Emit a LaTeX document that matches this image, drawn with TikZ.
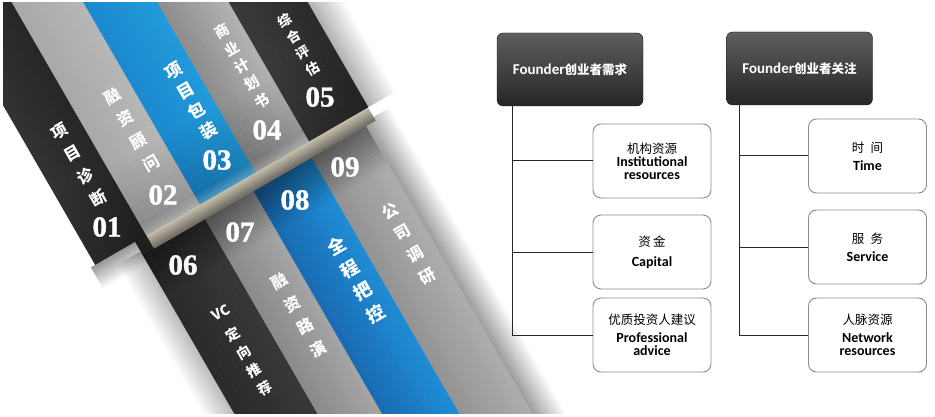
\documentclass[tikz,border=0pt]{standalone}
\usepackage{fontspec}
\newfontfamily\cjk{Noto Sans CJK SC}
\newfontfamily\en{Carlito}
\newfontfamily\numfont{Liberation Serif}[BoldFeatures={FakeBold=1.3}]
\usetikzlibrary{calc}
\definecolor{dkA}{HTML}{333333}\definecolor{dkB}{HTML}{262626}
\definecolor{gyA}{HTML}{A8A8A8}\definecolor{gyB}{HTML}{B7B7B7}
\definecolor{blA}{HTML}{1B89CE}\definecolor{blB}{HTML}{219ADA}
\definecolor{gy4A}{HTML}{8C8C8C}\definecolor{gy4B}{HTML}{B3B3B3}
\definecolor{dk5A}{HTML}{3A3A3A}\definecolor{dk5B}{HTML}{2A2A2A}
\definecolor{dk6A}{HTML}{2A2A2A}\definecolor{dk6B}{HTML}{383838}
\definecolor{gy7A}{HTML}{8A8A8A}\definecolor{gy7B}{HTML}{A5A5A5}
\definecolor{bl8A}{HTML}{196BB2}\definecolor{bl8B}{HTML}{1F8DD5}
\definecolor{gy9A}{HTML}{939393}\definecolor{gy9B}{HTML}{ADADAD}
\definecolor{creamA}{HTML}{E2DBC5}\definecolor{creamB}{HTML}{6E6A62}
\definecolor{hdA}{HTML}{5E5E5E}\definecolor{hdB}{HTML}{262626}
% gradient along f: f1 f2 s1 s2 c1 c2 n
\newcommand\gF[7]{\foreach \k in {1,...,#7}{%
 \pgfmathsetmacro\fa{#1+(#2-#1)*(\k-1)/#7}%
 \pgfmathsetmacro\fb{#1+(#2-#1)*\k/#7+0.4}%
 \pgfmathtruncatemacro\pc{100*(\k-0.5)/#7}%
 \fill[#6!\pc!#5] (\fa,#3) -- (\fb,#3) -- (\fb,#4) -- (\fa,#4) -- cycle;}}
% gradient along s: s1 s2 f1 f2 c1 c2 n
\newcommand\gS[7]{\foreach \k in {1,...,#7}{%
 \pgfmathsetmacro\sa{#1+(#2-#1)*(\k-1)/#7}%
 \pgfmathsetmacro\sb{#1+(#2-#1)*\k/#7+0.4}%
 \pgfmathtruncatemacro\pc{100*(\k-0.5)/#7}%
 \fill[#6!\pc!#5] (#3,\sa) -- (#4,\sa) -- (#4,\sb) -- (#3,\sb) -- cycle;}}
% opacity gradient along f: f1 f2 s1 s2 op1 op2 n colour
\newcommand\oF[8]{\foreach \k in {1,...,#7}{%
 \pgfmathsetmacro\fa{#1+(#2-#1)*(\k-1)/#7}%
 \pgfmathsetmacro\fb{#1+(#2-#1)*\k/#7}%
 \pgfmathsetmacro\op{#5+(#6-#5)*(\k-0.5)/#7}%
 \fill[#8,opacity=\op] (\fa,#3) -- (\fb,#3) -- (\fb,#4) -- (\fa,#4) -- cycle;}}
% opacity gradient along s: s1 s2 f1 f2 op1 op2 n colour
\newcommand\oS[8]{\foreach \k in {1,...,#7}{%
 \pgfmathsetmacro\sa{#1+(#2-#1)*(\k-1)/#7}%
 \pgfmathsetmacro\sb{#1+(#2-#1)*\k/#7}%
 \pgfmathsetmacro\op{#5+(#6-#5)*(\k-0.5)/#7}%
 \fill[#8,opacity=\op] (#3,\sa) -- (#4,\sa) -- (#4,\sb) -- (#3,\sb) -- cycle;}}
\begin{document}
\begin{tikzpicture}[x=1pt,y=-1pt,
  stxt/.style n args={2}{text=white,inner sep=0pt,align=center,rotate=30,
     font=\cjk\bfseries\fontsize{#1}{#2}\selectfont},
  num/.style={text=white,inner sep=0pt,font=\numfont\bfseries\fontsize{29}{29}\selectfont},
  hdr/.style={rounded corners=6pt,draw=black!90,top color=hdA,bottom color=hdB,
     minimum width=146pt,minimum height=73pt,inner sep=0pt,text=white},
  box/.style={rounded corners=8pt,draw=black!45,line width=0.9pt,fill=white,
     minimum width=118pt,minimum height=74pt,inner sep=0pt,align=center,
     font=\fontsize{13}{13}\selectfont},
  conn/.style={draw=black!85,line width=1pt}]
\useasboundingbox (0,0) rectangle (935,417);
\fill[white] (0,0) rectangle (935,417);
% ---------------- ribbon ----------------
\begin{scope}
\clip (3,3) rectangle (600,413);
\begin{scope}[x={(0.866pt,0.5pt)},y={(0.5pt,-0.866pt)}]
 % shadows on the white ground
 \oF{265}{298}{-220}{277}{0.30}{0}{16}{black}
 \oS{277}{302}{-55}{-4}{0.40}{0}{12}{black}
 \oF{-32}{-4}{288}{720}{0}{0.25}{14}{black}
 \oF{254}{284}{288}{720}{0.38}{0}{15}{black}
 % lower band
 \gF{-4}{68}{290}{720}{dk6A}{dk6B}{12}
 \gF{68}{124}{290}{720}{gy7A}{gy7B}{12}
 \gF{124}{191}{290}{720}{bl8A}{bl8B}{12}
 \gF{191}{254}{290}{720}{gy9A}{gy9B}{12}
 \oS{290}{340}{-4}{254}{0.45}{0}{14}{black}
 % fold
 \gS{273}{292}{9}{265}{creamA}{creamB}{10}
 \fill[black!88] (-4,272) -- (9,272) -- (9,292) -- (-4,292) -- cycle;
 % upper band
 \gF{-50}{9}{-220}{277}{dkA}{dkB}{10}
 \gF{9}{71}{-220}{277}{gyA}{gyB}{12}
 \gF{71}{135}{-220}{277}{blA}{blB}{12}
 \gF{135}{197}{-220}{277}{gy4A}{gy4B}{12}
 \gF{197}{265}{-220}{277}{dk5A}{dk5B}{12}
 \oS{200}{277}{-50}{265}{0}{0.20}{12}{black}
 \oS{266}{277}{9}{197}{0}{0.25}{6}{white}
\end{scope}
\end{scope}
% stripe labels
\node[num] (n01) at (107,227) {01};
\node[num] (n02) at (163,195) {02};
\node[num] (n03) at (217,160) {03};
\node[num] (n04) at (267,130) {04};
\node[num] (n05) at (320,97) {05};
\node[num] (n06) at (183,265) {06};
\node[num] (n07) at (240,232) {07};
\node[num] (n08) at (295,200) {08};
\node[num] (n09) at (345,167) {09};
\node[stxt={16}{26}] (t01) at (79,165) {项\\目\\诊\\断};
\node[stxt={16}{26}] (t02) at (131.5,130) {融\\资\\顾\\问};
\node[stxt={17}{23}] (t03) at (191.5,101) {项\\目\\包\\装};
\node[stxt={14.5}{20}] (t04) at (242,66) {商\\业\\计\\划\\书};
\node[stxt={13.5}{18.5}] (t05) at (298.5,45) {综\\合\\评\\估};
\node[stxt={14}{21}] (t06) at (243,351) {VC\\[4pt]定\\向\\推\\荐};
\node[stxt={16}{26}] (t07) at (298.5,315.5) {融\\资\\路\\演};
\node[stxt={18}{26}] (t08) at (356,280) {全\\程\\把\\控};
\node[stxt={16}{25}] (t09) at (409,243.5) {公\\司\\调\\研};
% ---------------- trees ----------------
\node[hdr] (hd1) at (570,69.5) {{\en\bfseries\fontsize{15}{15}\selectfont Founder}{\cjk\bfseries\fontsize{12.5}{15}\selectfont 创业者需求}};
\node[hdr] (hd2) at (799.5,68.5) {{\en\bfseries\fontsize{15}{15}\selectfont Founder}{\cjk\bfseries\fontsize{12.5}{15}\selectfont 创业者关注}};
\node[box] (L1) at (652,161) {{\cjk\fontsize{12.5}{13}\selectfont 机构资源}\\{\en\bfseries\fontsize{14}{13}\selectfont Institutional}\\{\en\bfseries\fontsize{14}{13}\selectfont resources}};
\node[box] (L2) at (652,252) {{\cjk\fontsize{12.5}{13}\selectfont 资\,金}\\[7pt]{\en\bfseries\fontsize{14}{13}\selectfont Capital}};
\node[box] (L3) at (652,335) {{\cjk\fontsize{12.5}{13}\selectfont 优质投资人建议}\\[5pt]{\en\bfseries\fontsize{14}{13}\selectfont Professional}\\{\en\bfseries\fontsize{14}{13}\selectfont advice}};
\node[box] (R1) at (867.5,156) {{\cjk\fontsize{12.5}{13}\selectfont 时\enspace 间}\\[5pt]{\en\bfseries\fontsize{14}{13}\selectfont Time}};
\node[box] (R2) at (867.5,247) {{\cjk\fontsize{12.5}{13}\selectfont 服\enspace 务}\\[5pt]{\en\bfseries\fontsize{14}{13}\selectfont Service}};
\node[box] (R3) at (867.5,335) {{\cjk\fontsize{12.5}{13}\selectfont 人脉资源}\\[5pt]{\en\bfseries\fontsize{14}{13}\selectfont Network}\\{\en\bfseries\fontsize{14}{13}\selectfont resources}};
\coordinate (v1) at ([xshift=16pt]hd1.south west);
\coordinate (v2) at ([xshift=13pt]hd2.south west);
\draw[conn] (v1) |- (L1.west);
\draw[conn] (v1) |- (L2.west);
\draw[conn] (v1) |- (L3.west);
\draw[conn] (v2) |- (R1.west);
\draw[conn] (v2) |- (R2.west);
\draw[conn] (v2) |- (R3.west);
\end{tikzpicture}
\end{document}
